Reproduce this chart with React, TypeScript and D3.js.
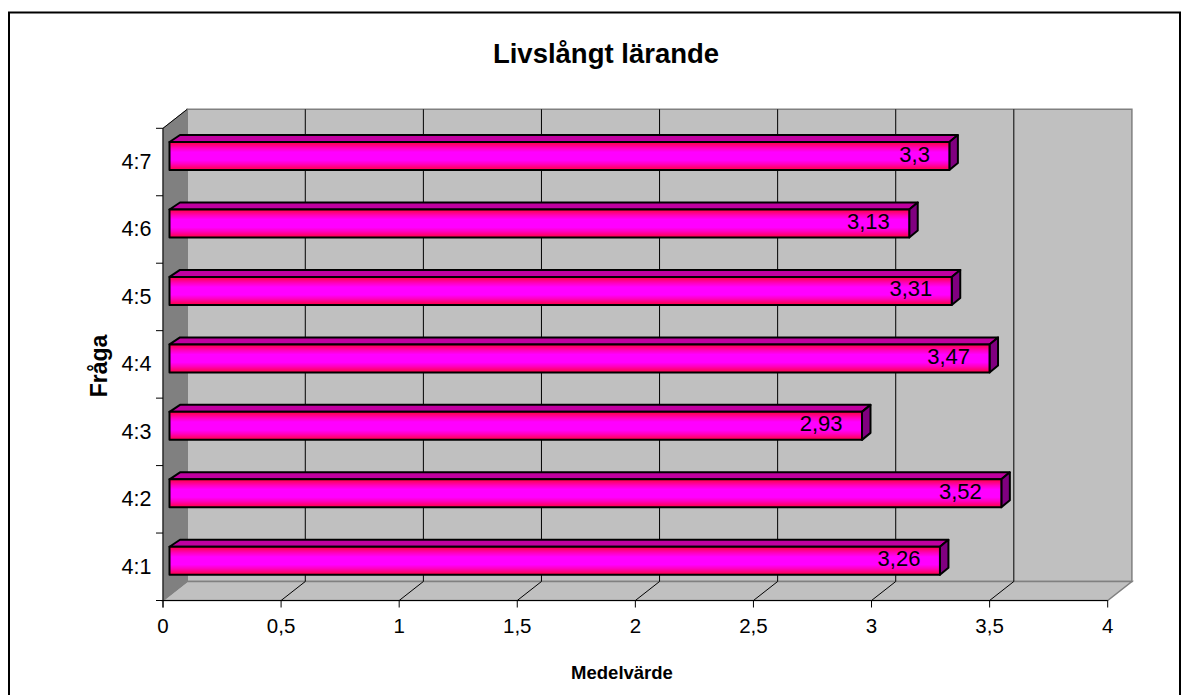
import React from "react";
import * as d3 from "d3";

const categories = ["4:1", "4:2", "4:3", "4:4", "4:5", "4:6", "4:7"];
const values = [3.26, 3.52, 2.93, 3.47, 3.31, 3.13, 3.3];
const xTicks = [0, 0.5, 1, 1.5, 2, 2.5, 3, 3.5, 4];
const yEdges = [0, 1, 2, 3, 4, 5, 6, 7];
const comma = (v: number) => String(v).replace(".", ",");

const FONT = "'Liberation Sans', Arial, sans-serif";
const x = d3.scaleLinear().domain([0, 4]).range([163, 1107.7]);
const y = d3.scaleLinear().domain([0, 7]).range([600.5, 128.3]);
const band = y(0) - y(1);
const DX = 24.2, DY = -19;
const BX = 6.5, BY = -6;
const DEPTHL = 10.5, DEPTHR = 8.5, DEPTHY = -7;
const barH = 28;

const pts = (p: [number, number][]) => p.map((q) => q.join(",")).join(" ");

export default function App() {
  const x0 = x(0), x4 = x(4), yb = y(0), yt = y(7);
  return (
    <svg width={1189} height={695} style={{ position: "absolute", left: 0, top: 0, display: "block" }}>
      <defs>
        <linearGradient id="barGrad" x1="0" y1="0" x2="0" y2="1">
          <stop offset="0" stopColor="#FF0040" />
          <stop offset="0.22" stopColor="#FF00C0" />
          <stop offset="0.36" stopColor="#FF00FF" />
          <stop offset="0.64" stopColor="#FF00FF" />
          <stop offset="0.78" stopColor="#FF00C0" />
          <stop offset="1" stopColor="#FF0040" />
        </linearGradient>
      </defs>
      <rect x={0} y={0} width={1189} height={695} fill="#fff" />
      <rect x={9} y={12.5} width={1171} height={700} fill="#fff" stroke="#000" strokeWidth={2} />
      <text x={606} y={63} textAnchor="middle" fontFamily={FONT} fontWeight="bold" fontSize={27.5}>Livslångt lärande</text>

      {/* walls */}
      <polygon points={pts([[x0 + DX, yt + DY], [x4 + DX, yt + DY], [x4 + DX, yb + DY], [x0 + DX, yb + DY]])} fill="#C0C0C0" stroke="#808080" strokeWidth={1.5} />
      <polygon points={pts([[x0, yb], [x4, yb], [x4 + DX, yb + DY], [x0 + DX, yb + DY]])} fill="#C0C0C0" stroke="#808080" strokeWidth={1.5} />
      <polygon points={pts([[x0, yt], [x0 + DX, yt + DY], [x0 + DX, yb + DY], [x0, yb]])} fill="#808080" stroke="#808080" />

      {/* gridlines */}
      {xTicks.slice(1, -1).map((t) => (
        <g key={t} stroke="#000" strokeWidth={1} fill="none">
          <polyline points={pts([[x(t), yb], [x(t) + DX, yb + DY], [x(t) + DX, yt + DY]])} />
        </g>
      ))}

      {/* axes */}
      <line x1={x0} x2={x0} y1={yt} y2={yb + 7} stroke="#000" />
      <line x1={x0 - 7} x2={x4} y1={yb} y2={yb} stroke="#000" />
      <line x1={x0} x2={x0 + DX} y1={yt} y2={yt + DY} stroke="#000" />
      {xTicks.map((t) => (
        <g key={t}>
          <line x1={x(t)} x2={x(t)} y1={yb} y2={yb + 7} stroke="#000" />
          <text x={x(t)} y={yb + 32.5} textAnchor="middle" fontFamily={FONT} fontSize={20.5}>{comma(t)}</text>
        </g>
      ))}
      {yEdges.map((e) => (
        <line key={e} x1={x0 - 7} x2={x0} y1={y(e)} y2={y(e)} stroke="#000" />
      ))}

      {/* bars, drawn from back to front */}
      {categories.map((c, i) => ({ c, i })).reverse().map(({ c, i }) => {
        const yc = y(i) - band / 2;
        const top = yc + BY - barH / 2;
        const bot = top + barH;
        const l = x0 + BX;
        const r = x(values[i]) + 7;
        return (
          <g key={c} stroke="#000" strokeWidth={2} strokeLinejoin="round">
            <polygon points={pts([[l, top], [r, top], [r + DEPTHR, top + DEPTHY], [l + DEPTHL, top + DEPTHY]])} fill="#C000A0" />
            <polygon points={pts([[r, top], [r + DEPTHR, top + DEPTHY], [r + DEPTHR, bot + DEPTHY], [r, bot]])} fill="#800080" />
            <rect x={l} y={top} width={r - l} height={barH} fill="url(#barGrad)" />
            <text x={r - 19.5} y={top + 19.5} textAnchor="end" fontFamily={FONT} fontSize={22} stroke="none" fill="#000">{comma(values[i])}</text>
            <text x={151.5} y={yc + 7} textAnchor="end" fontFamily={FONT} fontSize={21.5} stroke="none" fill="#000">{c}</text>
          </g>
        );
      })}

      <text x={622} y={679} textAnchor="middle" fontFamily={FONT} fontWeight="bold" fontSize={18.5}>Medelvärde</text>
      <text transform="translate(106.7,366) rotate(-90)" textAnchor="middle" fontFamily={FONT} fontWeight="bold" fontSize={23}>Fråga</text>
    </svg>
  );
}
